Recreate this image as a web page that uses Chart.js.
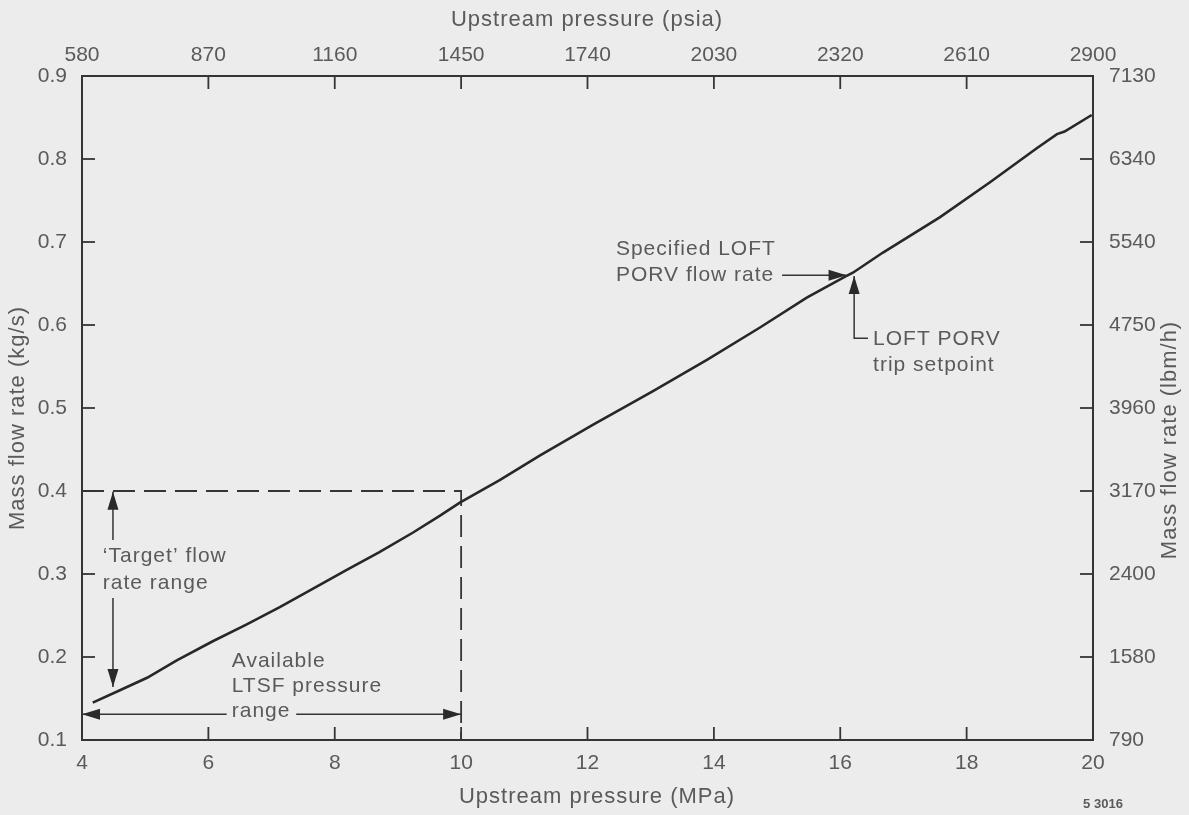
<!DOCTYPE html>
<html>
<head>
<script src="https://cdn.jsdelivr.net/npm/chart.js"></script>
<style>
  html, body { margin: 0; padding: 0; background: #ececec; }
</style>
</head>
<body>
<canvas id="chart" width="1189" height="815"></canvas>
<script>
    // curve: upstream pressure (MPa) vs mass flow rate (kg/s)
    var pressureMPa = [4.17, 4.6, 5.03, 5.5, 6.07, 6.6, 7.13, 7.65, 8.19, 8.7, 9.24, 9.66, 9.98,
                       10.61, 11.25, 12.09, 13.03, 13.89, 14.73, 15.47, 16.07, 16.2, 16.67,
                       17.58, 18.37, 19.11, 19.43, 19.55, 19.98];
    var massFlow    = [0.145, 0.160, 0.175, 0.196, 0.219, 0.239, 0.260, 0.282, 0.305, 0.326, 0.350, 0.370, 0.386,
                       0.413, 0.443, 0.480, 0.520, 0.558, 0.597, 0.633, 0.658, 0.663, 0.687,
                       0.730, 0.772, 0.813, 0.830, 0.833, 0.853];

    // secondary axis tick labels
    var psiaLabels = ['580', '870', '1160', '1450', '1740', '2030', '2320', '2610', '2900'];
    var lbmhLabels = ['790', '1580', '2400', '3170', '3960', '4750', '5540', '6340', '7130'];

    // LTSF limits (dashed box)
    var ltsfMaxPressure = 10;
    var targetMaxFlow = 0.4;

    var textColor = '#5a5a5a';
    var lineColor = '#353535';
    var font = '"Liberation Sans", Arial, Helvetica, sans-serif';

    function arrowHead(ctx, tx, ty, dx, dy) {
        var L = 18, W = 5.5;
        ctx.beginPath();
        ctx.moveTo(tx, ty);
        ctx.lineTo(tx - dx * L - dy * W, ty - dy * L + dx * W);
        ctx.lineTo(tx - dx * L + dy * W, ty - dy * L - dx * W);
        ctx.closePath();
        ctx.fill();
    }

    // inward tick marks on all four sides
    var innerTicks = {
        id: 'innerTicks',
        afterDatasetsDraw: function(chart) {
            var ctx = chart.ctx, a = chart.chartArea, len = 13;
            ctx.save();
            ctx.strokeStyle = lineColor;
            ctx.lineWidth = 1.8;
            ['x', 'x2', 'y', 'y2'].forEach(function(id) {
                var s = chart.scales[id];
                s.ticks.forEach(function(t) {
                    var p = s.getPixelForValue(t.value);
                    ctx.beginPath();
                    if (id == 'x') { ctx.moveTo(p, a.bottom); ctx.lineTo(p, a.bottom - len); }
                    if (id == 'x2') { ctx.moveTo(p, a.top); ctx.lineTo(p, a.top + len); }
                    if (id == 'y') { ctx.moveTo(a.left, p); ctx.lineTo(a.left + len, p); }
                    if (id == 'y2') { ctx.moveTo(a.right, p); ctx.lineTo(a.right - len, p); }
                    ctx.stroke();
                });
            });
            ctx.restore();
        }
    };

    // axis titles and the figure annotations
    var notes = {
        id: 'notes',
        afterDraw: function(chart) {
            var ctx = chart.ctx, a = chart.chartArea;
            var x = chart.scales.x, y = chart.scales.y;
            var X = function(v) { return x.getPixelForValue(v); };
            var Y = function(v) { return y.getPixelForValue(v); };
            ctx.save();
            ctx.fillStyle = textColor;
            ctx.letterSpacing = '1px';

            // axis titles
            ctx.font = '22px ' + font;
            ctx.textAlign = 'center';
            ctx.textBaseline = 'middle';
            ctx.fillText('Upstream pressure (psia)', 587, 20);
            ctx.fillText('Upstream pressure (MPa)', 597, 797);
            ctx.save();
            ctx.translate(18, 418);
            ctx.rotate(-Math.PI / 2);
            ctx.fillText('Mass flow rate (kg/s)', 0, 0);
            ctx.restore();
            ctx.save();
            ctx.translate(1170, 440);
            ctx.rotate(-Math.PI / 2);
            ctx.fillText('Mass flow rate (lbm/h)', 0, 0);
            ctx.restore();

            // annotation text
            ctx.font = '21px ' + font;
            ctx.textAlign = 'left';
            ctx.textBaseline = 'alphabetic';
            ctx.fillText('\u2018Target\u2019 flow', X(4.33), Y(0.3145));
            ctx.fillText('rate range', X(4.33), Y(0.282));
            ctx.fillText('Available', X(6.37), Y(0.188));
            ctx.fillText('LTSF pressure', X(6.37), Y(0.158));
            ctx.fillText('range', X(6.37), Y(0.128));
            ctx.fillText('Specified LOFT', X(12.45), Y(0.684));
            ctx.fillText('PORV flow rate', X(12.45), Y(0.653));
            ctx.fillText('LOFT PORV', X(16.52), Y(0.576));
            ctx.fillText('trip setpoint', X(16.52), Y(0.5446));

            ctx.letterSpacing = '0px';
            ctx.font = 'bold 13px ' + font;
            ctx.textAlign = 'center';
            ctx.fillText('5 3016', a.right + 10, 808);

            // arrows
            ctx.strokeStyle = lineColor;
            ctx.fillStyle = '#2a2a2a';
            ctx.lineWidth = 1.5;
            ctx.beginPath();
            ctx.moveTo(X(4.49), Y(0.399)); ctx.lineTo(X(4.49), Y(0.341));
            ctx.moveTo(X(4.49), Y(0.271)); ctx.lineTo(X(4.49), Y(0.164));
            ctx.moveTo(X(4), Y(0.131)); ctx.lineTo(X(6.29), Y(0.131));
            ctx.moveTo(X(7.39), Y(0.131)); ctx.lineTo(X(10), Y(0.131));
            ctx.moveTo(X(15.08), Y(0.660)); ctx.lineTo(X(16.1), Y(0.660));
            ctx.moveTo(X(16.22), Y(0.659)); ctx.lineTo(X(16.22), Y(0.584)); ctx.lineTo(X(16.44), Y(0.584));
            ctx.stroke();
            arrowHead(ctx, X(4.49), Y(0.399), 0, -1);
            arrowHead(ctx, X(4.49), Y(0.164), 0, 1);
            arrowHead(ctx, X(4), Y(0.131), -1, 0);
            arrowHead(ctx, X(10), Y(0.131), 1, 0);
            arrowHead(ctx, X(16.1), Y(0.660), 1, 0);
            arrowHead(ctx, X(16.22), Y(0.659), 0, -1);
            ctx.restore();
        }
    };

    var bg = {
        id: 'bg',
        beforeDraw: function(chart) {
            var ctx = chart.ctx;
            ctx.save();
            ctx.fillStyle = '#ececec';
            ctx.fillRect(0, 0, chart.width, chart.height);
            ctx.restore();
        }
    };

    var tickFont = { family: font, size: 21 };
    var axisBorder = { display: true, color: lineColor, width: 2 };

    var chart = new Chart(document.getElementById('chart'), {
        type: 'scatter',
        data: {
            datasets: [{
                data: pressureMPa.map(function(p, i) { return { x: p, y: massFlow[i] }; }),
                showLine: true,
                borderColor: '#272727',
                borderWidth: 2.6,
                pointRadius: 0,
                tension: 0
            }, {
                data: [{ x: 4, y: targetMaxFlow }, { x: ltsfMaxPressure, y: targetMaxFlow }, { x: ltsfMaxPressure, y: 0.1 }],
                showLine: true,
                borderColor: lineColor,
                borderWidth: 1.8,
                borderDash: [22, 9],
                pointRadius: 0
            }]
        },
        options: {
            responsive: false,
            animation: false,
            devicePixelRatio: 1,
            layout: { padding: 0 },
            plugins: { legend: { display: false }, tooltip: { enabled: false } },
            scales: {
                x: {
                    type: 'linear', position: 'bottom', min: 4, max: 20,
                    ticks: { stepSize: 2, font: tickFont, color: textColor, padding: 3 },
                    grid: { display: false }, border: axisBorder,
                    afterFit: function(s) { s.height = 75; }
                },
                x2: {
                    type: 'linear', position: 'top', min: 4, max: 20,
                    ticks: { stepSize: 2, font: tickFont, color: textColor, padding: 0,
                             callback: function(v, i) { return psiaLabels[i]; } },
                    grid: { display: false }, border: axisBorder,
                    afterFit: function(s) { s.height = 76; }
                },
                y: {
                    type: 'linear', position: 'left', min: 0.1, max: 0.9,
                    ticks: { stepSize: 0.1, font: tickFont, color: textColor, padding: 7,
                             callback: function(v) { return v.toFixed(1); } },
                    grid: { display: false }, border: axisBorder,
                    afterFit: function(s) { s.width = 82; }
                },
                y2: {
                    type: 'linear', position: 'right', min: 0.1, max: 0.9,
                    ticks: { stepSize: 0.1, font: tickFont, color: textColor, padding: 8,
                             callback: function(v, i) { return lbmhLabels[i]; } },
                    grid: { display: false }, border: axisBorder,
                    afterFit: function(s) { s.width = 96; }
                }
            }
        },
        plugins: [bg, innerTicks, notes]
    });
</script>
</body>
</html>
